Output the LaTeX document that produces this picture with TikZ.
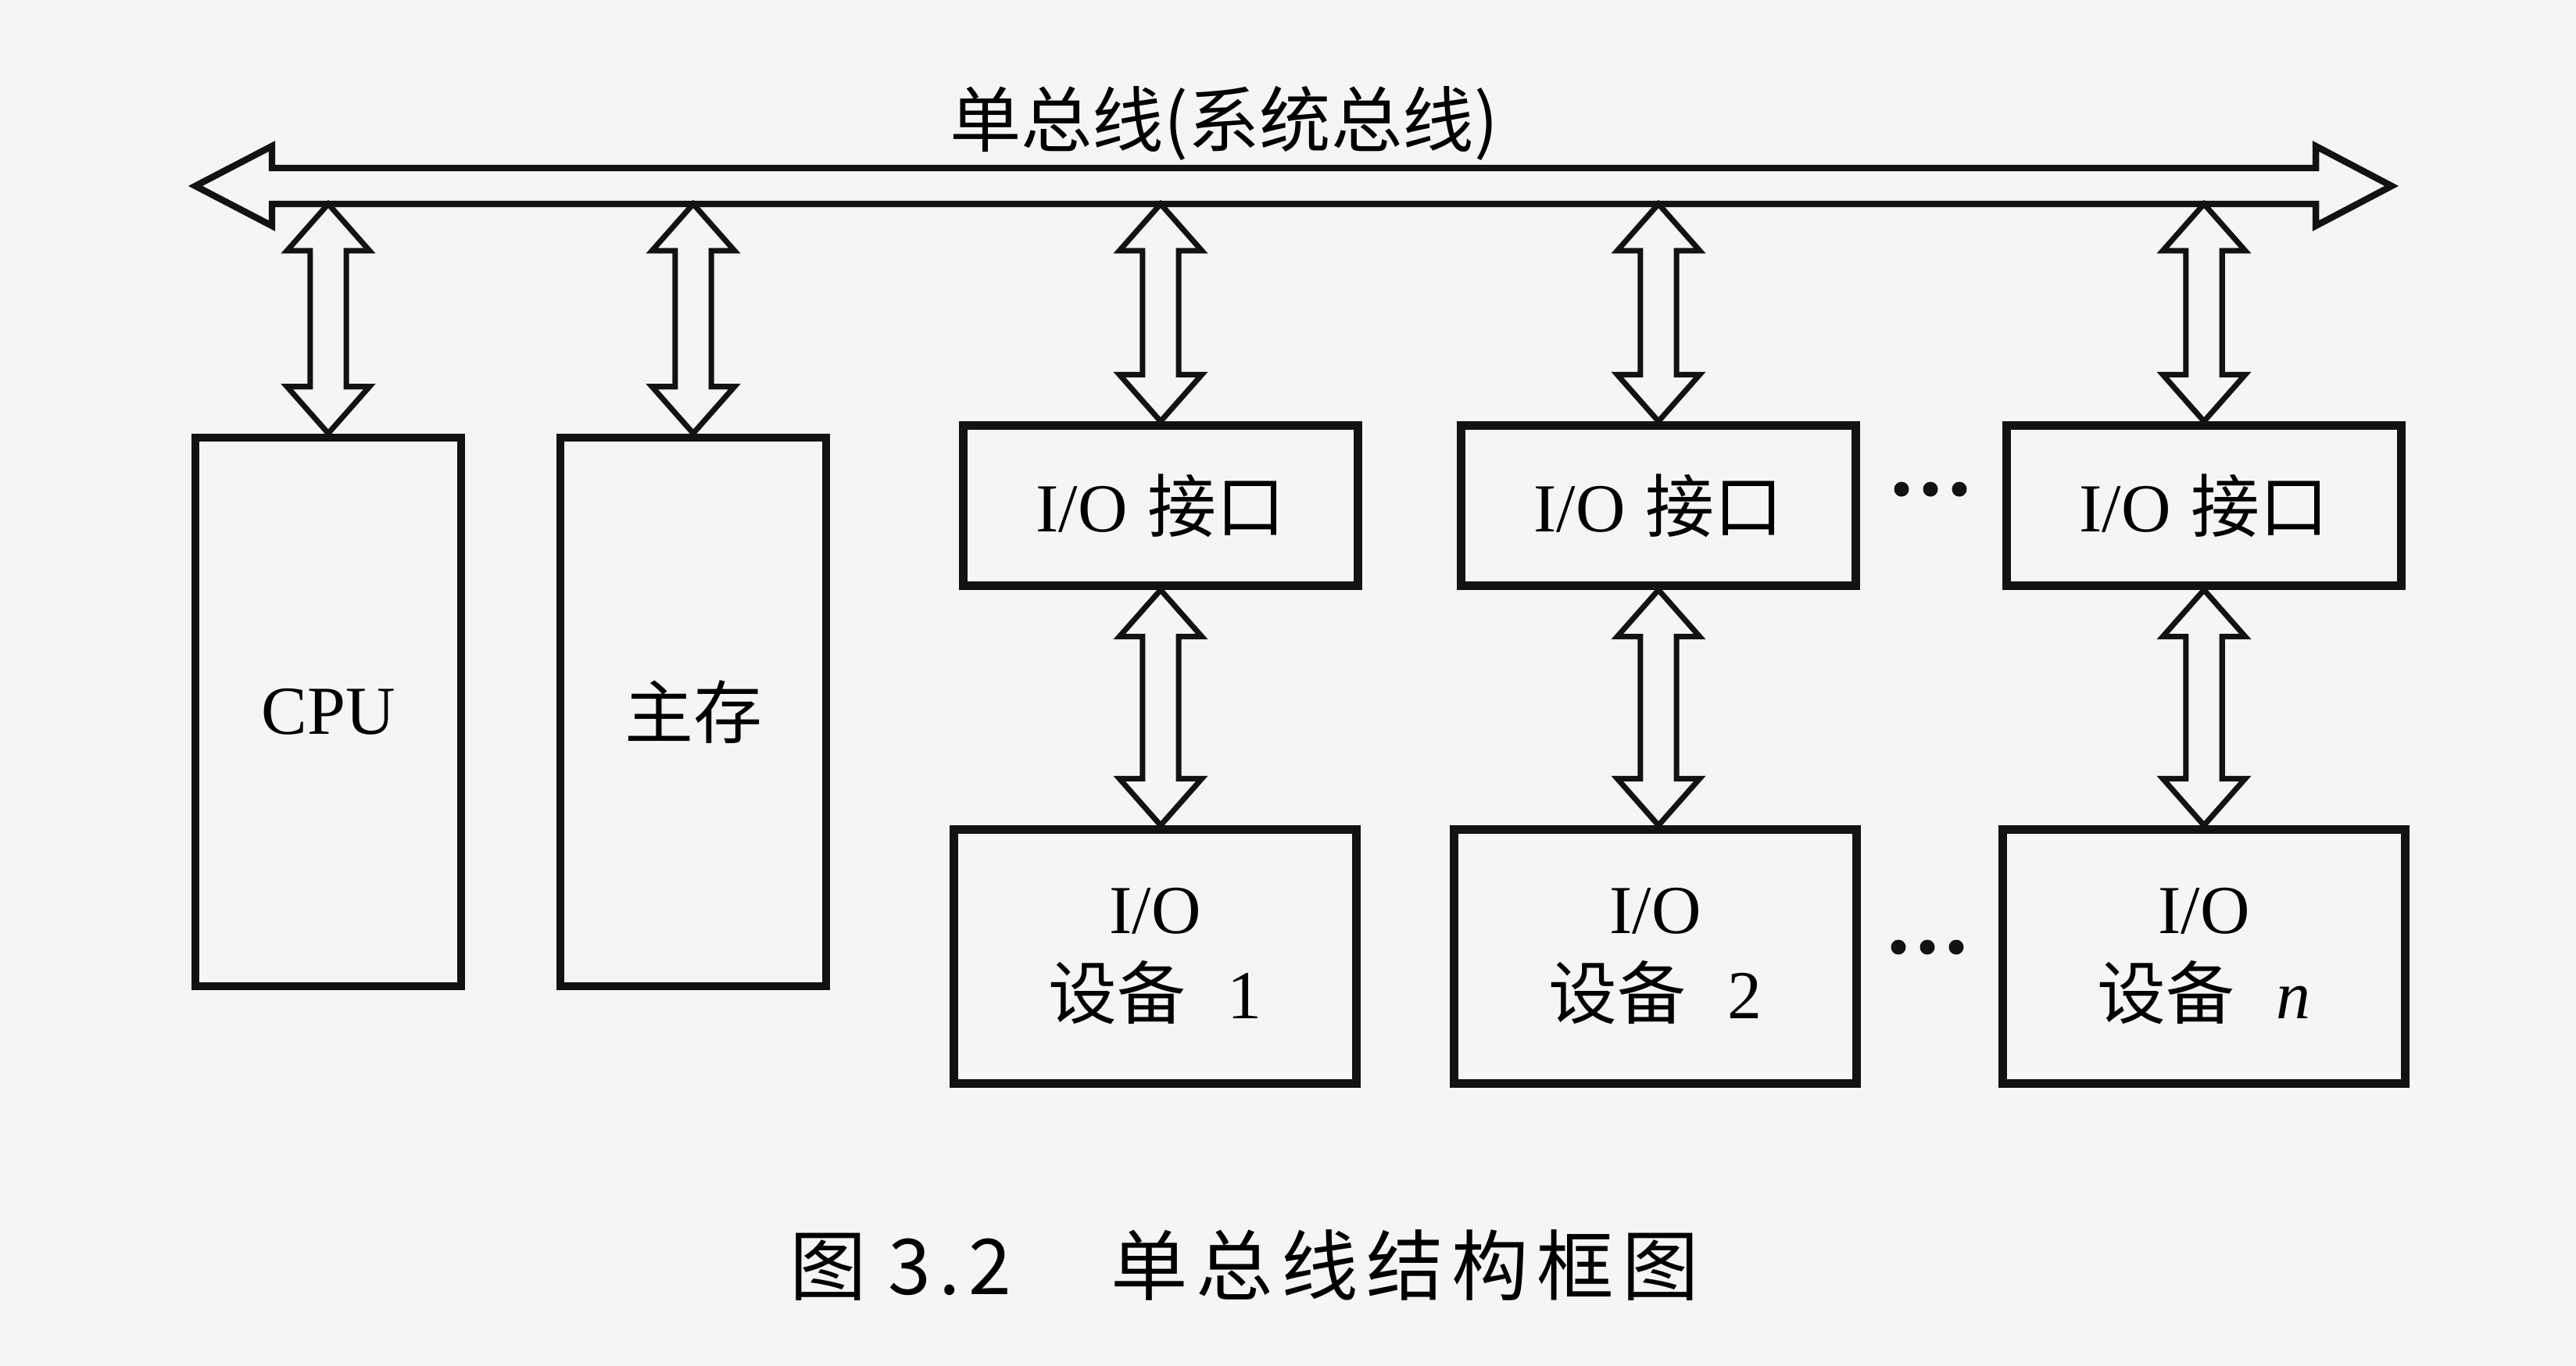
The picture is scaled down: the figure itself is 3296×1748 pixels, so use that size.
\documentclass[tikz,border=0pt]{standalone}
\usepackage{fontspec}
\setmainfont{Liberation Serif}
\newfontfamily\zhfont{Noto Sans CJK SC}
\usetikzlibrary{calc}

\definecolor{paper}{RGB}{246,244,244}
\definecolor{ink}{RGB}{18,18,18}

% hollow double-headed vertical arrow from #1 (top) to #2 (bottom)
\newcommand{\vdarrow}[2]{%
  \draw[fatarrow] let \p1=(#1), \p2=(#2) in
   (\x1,\y1) -- (\x1+15pt,\y1-17pt) -- (\x1+6.6pt,\y1-17pt) -- (\x1+6.6pt,\y2+17pt)
   -- (\x1+15pt,\y2+17pt) -- (\x1,\y2) -- (\x1-15pt,\y2+17pt) -- (\x1-6.6pt,\y2+17pt)
   -- (\x1-6.6pt,\y1-17pt) -- (\x1-15pt,\y1-17pt) -- cycle;}
\newcommand{\hs}{\hspace{3pt}}

\begin{document}
\begin{tikzpicture}[x=0.01cm,y=-0.01cm,
  box/.style={draw=ink,line width=3pt,inner sep=0pt,align=center,
    font=\fontsize{25}{31}\selectfont},
  tallbox/.style={box,minimum width=3.4cm,minimum height=7.02cm},
  ifbox/.style={box,minimum width=5.05cm,minimum height=2.05cm},
  devbox/.style={box,minimum width=5.15cm,minimum height=3.25cm},
  fatarrow/.style={draw=ink,line width=2pt,line join=miter},
  busline/.style={draw=ink,line width=2.4pt,line join=miter},
  lbl/.style={font=\fontsize{26}{30}\selectfont\zhfont,inner sep=0pt}]

\fill[paper] (0,0) rectangle (3296,1748);
\useasboundingbox (0,0) rectangle (3296,1748);

% bus
\node[lbl] (buslabel) at (1566,158) {单总线(系统总线)};
\draw[busline] (250,238) -- (348,187) -- (348,215) -- (2963,215) -- (2963,187)
  -- (3060,238) -- (2963,289) -- (2963,261) -- (348,261) -- (348,289) -- cycle;
\coordinate (busB) at (1600,261);

% boxes
\node[tallbox] (cpu) at (420,911) {CPU};
\node[tallbox] (mem) at (887,911) {{\zhfont 主存}};
\node[ifbox] (if1) at (1485,647) {I/O\hspace{0.3em}{\zhfont 接口}};
\node[ifbox] (if2) at (2122,647) {I/O\hspace{0.3em}{\zhfont 接口}};
\node[ifbox] (ifn) at (2820,647) {I/O\hspace{0.3em}{\zhfont 接口}};
\node[devbox] (dev1) at (1478,1224) {I/O\\{\zhfont 设备}\hspace{0.6em}1};
\node[devbox] (dev2) at (2118,1224) {I/O\\{\zhfont 设备}\hspace{0.6em}2};
\node[devbox] (devn) at (2820,1224) {I/O\\{\zhfont 设备}\hspace{0.6em}\textit{n}};

% arrows bus <-> units
\vdarrow{cpu.north |- busB}{cpu.north}
\vdarrow{mem.north |- busB}{mem.north}
\vdarrow{if1.north |- busB}{if1.north}
\vdarrow{if2.north |- busB}{if2.north}
\vdarrow{ifn.north |- busB}{ifn.north}
% arrows interface <-> device
\vdarrow{if1.south}{if1.south |- dev1.north}
\vdarrow{if2.south}{if2.south |- dev2.north}
\vdarrow{ifn.south}{ifn.south |- devn.north}

% ellipsis dots
\coordinate (dotsA) at (2470,626);
\coordinate (dotsB) at (2466,1212);
\foreach \c in {dotsA,dotsB}{
  \foreach \dx in {-37,0,37}{
    \fill[ink] ($(\c)+(\dx,0)$) circle (9.5);
  }
}

% caption
\node[font=\fontsize{28}{32}\selectfont\zhfont,inner sep=0pt] (cap) at (1592,1619)
  {图\hspace{8pt}3\hspace{3pt}.\hspace{3pt}2\hspace{36pt}单\hs 总\hs 线\hs 结\hs 构\hs 框\hs 图};
\end{tikzpicture}
\end{document}
